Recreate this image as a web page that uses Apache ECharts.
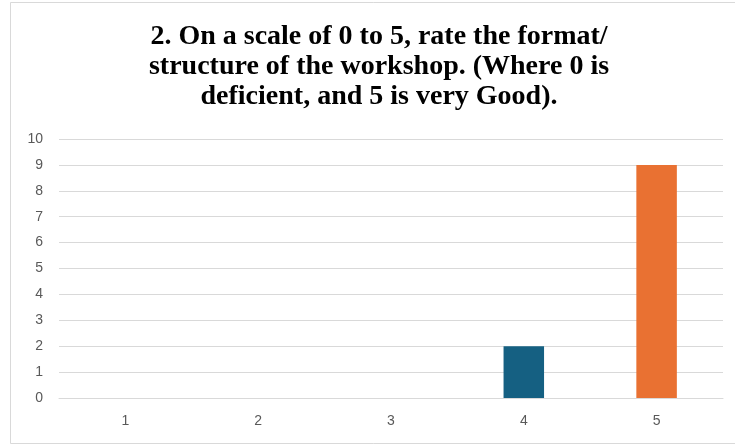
<!DOCTYPE html>
<html>
<head>
<meta charset="utf-8">
<script src="https://cdn.jsdelivr.net/npm/echarts@6/dist/echarts.min.js"></script>
<style>
  html, body { margin: 0; padding: 0; background: #fff; }
  #chart { width: 735px; height: 445px; }
</style>
</head>
<body>
<div id="chart"></div>
<script>
// Survey question 2: ratings of the workshop format/structure
const titleText = '2. On a scale of 0 to 5, rate the format/\nstructure of the workshop. (Where 0 is\ndeficient, and 5 is very Good).';
const categories = ['1', '2', '3', '4', '5'];
const counts = [0, 0, 0, 2, 9];
const barColors = ['#156082', '#156082', '#156082', '#156082', '#E97132'];
const yTicks = { min: 0, max: 10, interval: 1 };

const chart = echarts.init(document.getElementById('chart'), null, { renderer: 'canvas' });

const axisFont = {
  fontFamily: '"Liberation Sans", Arial, sans-serif',
  fontSize: 14,
  color: '#595959'
};

chart.setOption({
  backgroundColor: '#ffffff',
  animation: false,
  graphic: [{
    type: 'rect',
    shape: { x: 10.5, y: 2.5, width: 740, height: 441 },
    style: { fill: 'none', stroke: '#d9d9d9', lineWidth: 1 },
    silent: true,
    z: -10
  }],
  title: {
    text: titleText,
    left: 374,
    top: 17,
    textAlign: 'center',
    textStyle: {
      fontFamily: '"Liberation Serif", "Times New Roman", serif',
      fontWeight: 'bold',
      fontSize: 28,
      lineHeight: 30,
      color: '#000000'
    }
  },
  grid: { left: 59, right: 12, top: 139, bottom: 47, containLabel: false },
  xAxis: {
    type: 'category',
    data: categories,
    axisTick: { show: false },
    axisLine: { show: true, lineStyle: { color: '#d9d9d9', width: 1 } },
    axisLabel: Object.assign({ margin: 16 }, axisFont)
  },
  yAxis: {
    type: 'value',
    min: yTicks.min,
    max: yTicks.max,
    interval: yTicks.interval,
    axisLine: { show: false },
    axisTick: { show: false },
    splitLine: { lineStyle: { color: '#d9d9d9', width: 1 } },
    axisLabel: Object.assign({ margin: 16 }, axisFont)
  },
  series: [{
    type: 'bar',
    data: counts,
    barWidth: '30.5%',
    itemStyle: {
      color: function (p) { return barColors[p.dataIndex]; }
    }
  }]
});
</script>
</body>
</html>
